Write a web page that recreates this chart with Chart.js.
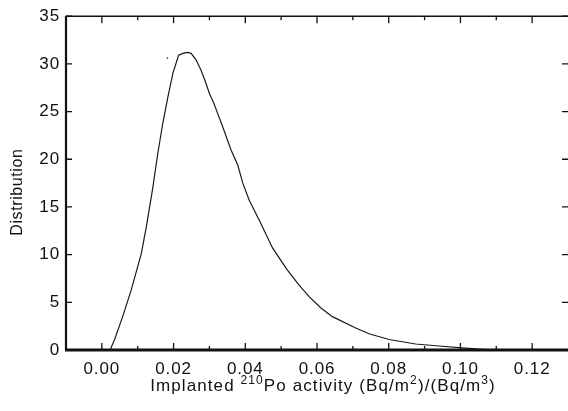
<!DOCTYPE html>
<html>
<head>
<meta charset="utf-8">
<script src="https://cdn.jsdelivr.net/npm/chart.js@4/dist/chart.umd.min.js"></script>
<style>
  html, body { margin: 0; padding: 0; background: #fff; overflow: hidden; }
  canvas { display: block; }
</style>
</head>
<body>
<canvas id="distChart" width="572" height="411"></canvas>
<script>
// values
const activity = [0.0023, 0.0035, 0.0058, 0.0082, 0.0110, 0.0124, 0.0142, 0.0156, 0.0170, 0.0184,
  0.0198, 0.0214, 0.0226, 0.0239, 0.0249, 0.0263, 0.0277, 0.0289, 0.0300, 0.0312,
  0.0325, 0.0337, 0.0360, 0.0379, 0.0393, 0.0411, 0.0439, 0.0476, 0.0515, 0.0550,
  0.0578, 0.0611, 0.0643, 0.0708, 0.0745, 0.0801, 0.0875, 0.0940, 0.0996, 0.1051, 0.1100];
const distribution = [0, 1.05, 3.5, 6.3, 10.1, 12.9, 17.0, 20.6, 23.8, 26.5,
  29.0, 30.9, 31.1, 31.2, 31.1, 30.4, 29.3, 28.1, 26.9, 25.9,
  24.6, 23.4, 21.0, 19.4, 17.5, 15.7, 13.6, 10.7, 8.5, 6.8,
  5.6, 4.4, 3.5, 2.3, 1.7, 1.1, 0.63, 0.42, 0.24, 0.1, 0.0];
// the stray dot left of the peak
const strayX = [0.0183];
const strayY = [30.6];

const xTicks = [0.00, 0.02, 0.04, 0.06, 0.08, 0.10, 0.12];
const yTicks = [0, 5, 10, 15, 20, 25, 30, 35];

const FONT = "'Liberation Sans', Arial, Helvetica, sans-serif";

// the reference text is set rather loose
const spacingPlugin = {
  id: 'spacing',
  beforeDraw(chart) { chart.ctx.letterSpacing = '0.9px'; }
};

// frame, inward ticks and the two axis titles
const framePlugin = {
  id: 'frame',
  afterDraw(chart) {
    const { ctx, chartArea: { left, right, top, bottom } } = chart;
    const xs = chart.scales.x, ys = chart.scales.y;
    ctx.save();
    ctx.strokeStyle = '#111';

    ctx.lineWidth = 1.5;
    ctx.beginPath();
    ctx.moveTo(left, top); ctx.lineTo(right, top);
    ctx.stroke();
    ctx.lineWidth = 2.2;
    ctx.beginPath();
    ctx.moveTo(left, top - 0.5); ctx.lineTo(left, bottom);
    ctx.stroke();
    ctx.lineWidth = 2.8;
    ctx.beginPath();
    ctx.moveTo(left - 1, bottom); ctx.lineTo(right, bottom);
    ctx.stroke();

    ctx.lineWidth = 1.3;
    ctx.beginPath();
    xs.ticks.forEach((t, i) => {
      const px = xs.getPixelForValue(t.value);
      ctx.moveTo(px, bottom); ctx.lineTo(px, bottom - 7);
      ctx.moveTo(px, top); ctx.lineTo(px, top + 7);
      if (i < xs.ticks.length - 1) {
        const mx = xs.getPixelForValue((t.value + xs.ticks[i + 1].value) / 2);
        ctx.moveTo(mx, bottom); ctx.lineTo(mx, bottom - 4);
        ctx.moveTo(mx, top); ctx.lineTo(mx, top + 4);
      }
    });
    ys.ticks.forEach(t => {
      const py = ys.getPixelForValue(t.value);
      ctx.moveTo(left, py); ctx.lineTo(left + 6, py);
      ctx.moveTo(right, py); ctx.lineTo(right - 6, py);
    });
    ctx.stroke();

    // y title
    ctx.fillStyle = '#111';
    ctx.font = '16px ' + FONT;
    ctx.letterSpacing = '0.6px';
    ctx.textAlign = 'center';
    ctx.textBaseline = 'middle';
    ctx.save();
    ctx.translate(18, (top + bottom) / 2 + 9);
    ctx.rotate(-Math.PI / 2);
    ctx.fillText('Distribution', 0, 0);
    ctx.restore();

    // x title with superscripts
    const parts = [
      ['Implanted ', false], ['210', true], ['Po activity (Bq/m', false], ['2', true],
      [')/(Bq/m', false], ['3', true], [')', false]
    ];
    const big = '17px ' + FONT, small = '12px ' + FONT;
    ctx.letterSpacing = '1.1px';
    let total = 0;
    parts.forEach(p => { ctx.font = p[1] ? small : big; total += ctx.measureText(p[0]).width; });
    let x = 323 - total / 2;
    const base = 391;
    ctx.textAlign = 'left';
    ctx.textBaseline = 'alphabetic';
    parts.forEach(p => {
      ctx.font = p[1] ? small : big;
      ctx.fillText(p[0], x, p[1] ? base - 7 : base);
      x += ctx.measureText(p[0]).width;
    });
    ctx.restore();
  }
};

const ctx = document.getElementById('distChart').getContext('2d');
new Chart(ctx, {
  type: 'line',
  data: {
    datasets: [{
      data: activity.map((v, i) => ({ x: v, y: distribution[i] })),
      borderColor: '#1a1a1a',
      borderWidth: 1.2,
      pointRadius: 0,
      tension: 0,
      fill: false
    }, {
      data: strayX.map((v, i) => ({ x: v, y: strayY[i] })),
      showLine: false,
      pointRadius: 0.8,
      pointBorderWidth: 0,
      pointBackgroundColor: '#333'
    }]
  },
  options: {
    responsive: false,
    animation: false,
    layout: { padding: { top: 16, right: 2, left: 0, bottom: 0 } },
    plugins: { legend: { display: false }, tooltip: { enabled: false } },
    scales: {
      x: {
        type: 'linear',
        min: -0.01,
        max: 0.13,
        afterBuildTicks: s => { s.ticks = xTicks.map(v => ({ value: v })); },
        afterFit: s => { s.height = 61; },
        grid: { display: false, drawTicks: false },
        border: { display: false },
        ticks: {
          padding: 9,
          color: '#111',
          font: { family: FONT, size: 17 },
          callback: v => v.toFixed(2)
        }
      },
      y: {
        min: 0,
        max: 35,
        afterBuildTicks: s => { s.ticks = yTicks.map(v => ({ value: v })); },
        afterFit: s => { s.width = 66; },
        grid: { display: false, drawTicks: false },
        border: { display: false },
        ticks: {
          padding: 6,
          color: '#111',
          font: { family: FONT, size: 17 }
        }
      }
    }
  },
  plugins: [spacingPlugin, framePlugin]
});
</script>
</body>
</html>
